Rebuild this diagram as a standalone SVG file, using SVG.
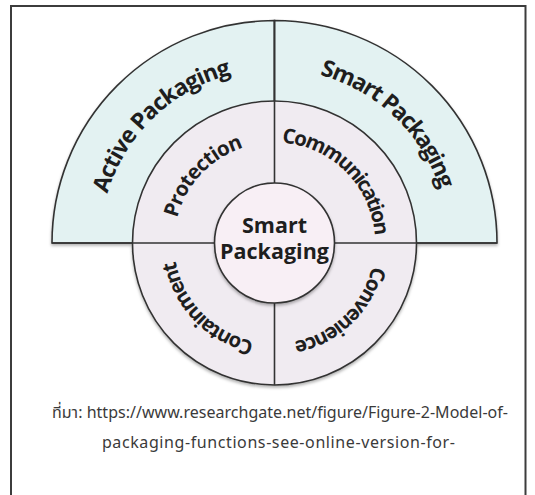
<svg xmlns="http://www.w3.org/2000/svg" xmlns:xlink="http://www.w3.org/1999/xlink" width="535" height="495" viewBox="0 0 535 495">
  <defs>
    <style>
      .seg { stroke: #333; stroke-width: 1.6; }
      .div { stroke: #333; stroke-width: 1.6; fill: none; }
      .lbl { font-family: "Open Sans", "Noto Sans", "DejaVu Sans", sans-serif; font-weight: 700; fill: #1e1e1e; }
      .outer { font-size: 23px; }
      .ring { font-size: 20.5px; }
      .core { font-size: 21.5px; text-anchor: middle; }
      .cap { font-family: "Noto Sans", "Noto Sans Thai", "DejaVu Sans", sans-serif; font-size: 16px; fill: #3a3a3a; text-anchor: middle; }
    </style>
    <filter id="shade" x="-10%" y="-10%" width="120%" height="120%">
      <feDropShadow dx="0" dy="2" stdDeviation="1.5" flood-color="#000" flood-opacity="0.3"/>
    </filter>
    <!-- clockwise circles starting at 12 o'clock, used as text baselines -->
    <path id="arcOuter" d="M274.5,69 A174,174 0 1 1 274.5,417 A174,174 0 1 1 274.5,69"/>
    <path id="arcRing" d="M274.5,142.5 A100.5,100.5 0 1 1 274.5,343.5 A100.5,100.5 0 1 1 274.5,142.5"/>
  </defs>

  <rect x="0" y="0" width="535" height="495" fill="#ffffff"/>
  <!-- frame -->
  <path d="M11,495 V6 H525.5 V495" fill="none" stroke="#3c3c3c" stroke-width="2"/>

  <g filter="url(#shade)">
    <g id="active-packaging">
      <path class="seg" d="M52,243 A222.5,222.5 0 0 1 274.5,20.5 V243 Z" fill="#e3f2f2"/>
    </g>
    <g id="smart-packaging-outer">
      <path class="seg" d="M274.5,20.5 A222.5,222.5 0 0 1 497,243 H274.5 Z" fill="#e3f2f2"/>
    </g>
    <g id="functions-ring">
      <circle class="seg" cx="274.5" cy="243" r="142" fill="#f0ebf1"/>
    </g>
  </g>

  <g id="connectors">
    <line class="div" x1="274.5" y1="20.5" x2="274.5" y2="385"/>
    <line class="div" x1="52" y1="243" x2="497" y2="243"/>
  </g>

  <g id="smart-packaging-core" filter="url(#shade)">
    <circle class="seg" cx="274.5" cy="243" r="60" fill="#f8eff5"/>
  </g>

  <g id="outer-labels" class="lbl outer">
    <text><textPath xlink:href="#arcOuter" startOffset="87.8%" text-anchor="middle" textLength="180">Active Packaging</textPath></text>
    <text><textPath xlink:href="#arcOuter" startOffset="12.1%" text-anchor="middle" textLength="173">Smart Packaging</textPath></text>
  </g>

  <g id="ring-labels" class="lbl ring">
    <g id="protection"><text><textPath xlink:href="#arcRing" startOffset="87%" text-anchor="middle" textLength="101">Protection</textPath></text></g>
    <g id="communication"><text><textPath xlink:href="#arcRing" startOffset="12.5%" text-anchor="middle" textLength="143">Communication</textPath></text></g>
    <g id="convenience"><text><textPath xlink:href="#arcRing" startOffset="37.8%" text-anchor="middle" textLength="115">Convenience</textPath></text></g>
    <g id="containment"><text><textPath xlink:href="#arcRing" startOffset="62.7%" text-anchor="middle" textLength="119">Containment</textPath></text></g>
  </g>

  <g id="core-label" class="lbl core">
    <text x="274.5" y="233.3">Smart</text>
    <text x="274.5" y="259.3">Packaging</text>
  </g>

  <g id="caption">
    <text class="cap" x="280" y="417.5" textLength="456">ที่มา: https://www.researchgate.net/figure/Figure-2-Model-of-</text>
    <text class="cap" x="278.4" y="447.5" textLength="353">packaging-functions-see-online-version-for-</text>
  </g>
</svg>
